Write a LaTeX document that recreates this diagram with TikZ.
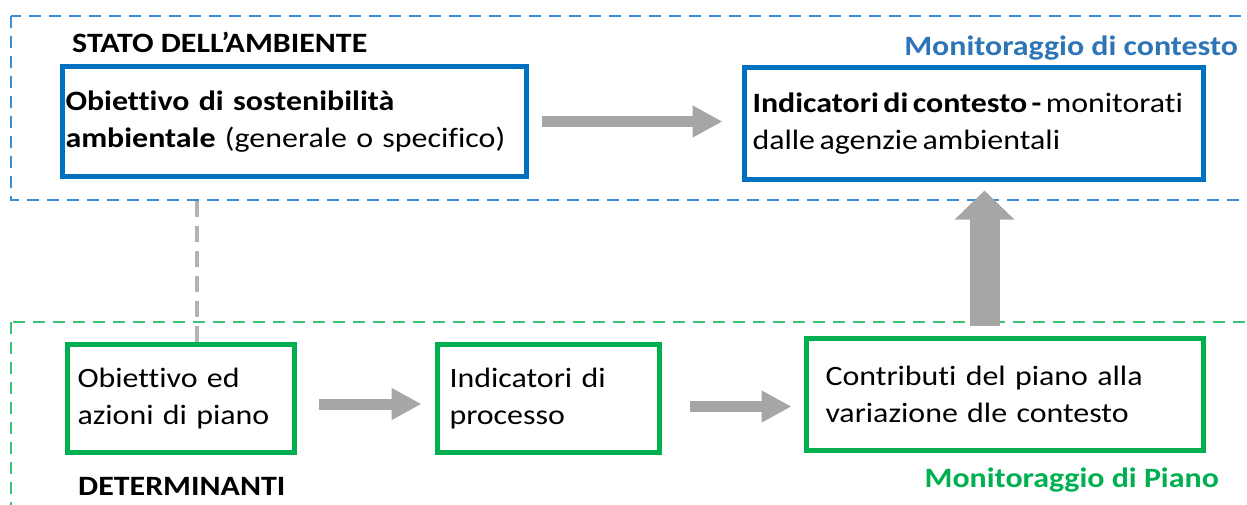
\documentclass[tikz,border=0pt]{standalone}
\usepackage{fontspec}
\setmainfont{Carlito}[FakeStretch=1.14, Ligatures=NoCommon]
\usepackage{xcolor}
\usetikzlibrary{arrows.meta}
\definecolor{bluP}{HTML}{0070C0}
\definecolor{bluT}{HTML}{2E75B6}
\definecolor{bluD}{HTML}{3A8DD8}
\definecolor{verdeP}{HTML}{00B050}
\definecolor{verdeD}{HTML}{3CC274}
\definecolor{grigioF}{HTML}{A6A6A6}
\tikzset{
  box_n/.style = {align=left, inner ysep=0pt, line width=5pt,
    font=\fontsize{28}{37}\selectfont},
  box_b/.style = {box_n, draw=bluP},% riquadro blu, stato
  box_v/.style = {box_n, draw=verdeP},% riquadro verde, piano
  titolo/.style = {inner sep=0pt, font=\fontsize{28}{34}\selectfont\bfseries},
  tratt_b/.style = {draw=bluD, line width=1.5pt, dash pattern=on 12pt off 8pt},
  tratt_v/.style = {draw=verdeD, line width=1.5pt, dash pattern=on 12pt off 8pt},
  freccia/.style = {-{Triangle[length=30pt,width=30pt]}, line width=11pt,
    grigioF},
  freccia_su/.style = {-{Triangle[length=29pt,width=58pt]}, line width=30pt,
    grigioF}
}
\begin{document}
\begin{tikzpicture}[x=1pt, y=-1pt]
\useasboundingbox (0,0) rectangle (1247,504);

\draw[tratt_b] (11,16) rectangle (1262,200);
\draw[tratt_v] (11,322) rectangle (1262,508);

\node[box_b, text width=458pt, inner xsep=3pt, minimum height=110pt] (b1) at (294.5,121.5)
  {\textbf{Obiettivo di sostenibilità}\\\textbf{ambientale} (generale o specifico)};
\node[box_b, text width=443pt, inner xsep=8pt, minimum height=112pt] (b2) at (974,123.5)
  {\spaceskip=4.5pt\relax
   \mbox{\textbf{Indicatori di contesto -} monitorati}\\dalle agenzie ambientali};
\node[box_v, text width=207pt, inner xsep=10pt, minimum height=108pt] (g1) at (181,398.5)
  {Obiettivo ed\\azioni di piano};
\node[box_v, text width=198pt, inner xsep=12pt, minimum height=108pt] (g2) at (548.5,398.5)
  {Indicatori di\\processo};
\node[box_v, text width=359pt, inner xsep=19pt, minimum height=112pt] (g3) at (1005,394.5)
  {Contributi del piano alla\\variazione dle contesto};

\node[titolo, anchor=base west] (t1) at (72,52) {STATO DELL’AMBIENTE};
\node[titolo, anchor=base east, bluT] (t2) at (1238,55) {Monitoraggio di contesto};
\node[titolo, anchor=base west] (t3) at (78,495) {DETERMINANTI};
\node[titolo, anchor=base east, verdeP] (t4) at (1219,487) {Monitoraggio di Piano};

\draw[grigioF!85, line width=4pt, dash pattern=on 16pt off 9pt, shorten >=17pt]
  (g1.north west) ++(132,0) coordinate (p1) -- (p1 |- b1.south);
\draw[freccia, shorten <=12.5pt, shorten >=19.5pt] (b1.east) -- (b1.east -| b2.west);
\draw[freccia, shorten <=21.5pt, shorten >=13.5pt]
  ([yshift=-5.5pt]g1.east) coordinate (p2) -- (p2 -| g2.west);
\draw[freccia, shorten <=27.5pt, shorten >=12.5pt]
  ([yshift=-8pt]g2.east) coordinate (p3) -- (p3 -| g3.west);
\draw[freccia_su, shorten <=10.5pt, shorten >=8.5pt]
  (g3.north west) ++(180.5,0) coordinate (p4) -- (p4 |- b2.south);
\end{tikzpicture}
\end{document}
